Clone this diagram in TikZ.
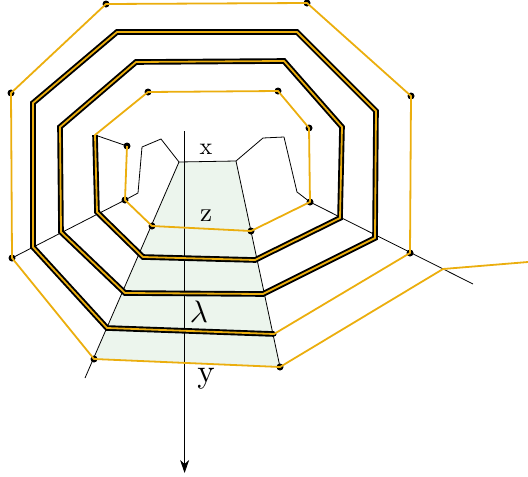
\documentclass[tikz,border=0pt]{standalone}
\usetikzlibrary{arrows.meta}
\definecolor{gold}{HTML}{EBAE0E}
\definecolor{pale}{HTML}{ECF5ED}
\tikzset{
  goldline/.style={draw=gold,line width=1.8pt,line join=round},
  thickblack/.style={draw=black,line width=5.6pt,line join=miter},
  thinline/.style={draw=black,line width=0.8pt,line join=round},
  dot/.style={circle,fill=black,inner sep=0pt,minimum size=7pt},
  lab/.style={inner sep=0pt,text=black}
}
\begin{document}
\begin{tikzpicture}[x=1pt,y=-1pt]
\useasboundingbox (0,0) rectangle (528,477);
\coordinate (s0) at (528,262);
\coordinate (s1) at (443,269);
\coordinate (s2) at (280,367);
\coordinate (s3) at (94,359);
\coordinate (s4) at (12,258);
\coordinate (s5) at (11,93);
\coordinate (s6) at (106,4);
\coordinate (s7) at (307,3);
\coordinate (s8) at (411,96);
\coordinate (s9) at (410,253);
\coordinate (s10) at (274,334);
\coordinate (b1) at (107,328);
\coordinate (b2) at (33,247);
\coordinate (b3) at (33,103);
\coordinate (b4) at (117,32);
\coordinate (b5) at (297,32);
\coordinate (b6) at (376,111);
\coordinate (b7) at (375,238);
\coordinate (b8) at (263,294);
\coordinate (b9) at (125,293);
\coordinate (b10) at (61,232);
\coordinate (b11) at (60,127);
\coordinate (b12) at (136,62);
\coordinate (b13) at (284,61);
\coordinate (b14) at (342,127);
\coordinate (b15) at (340,218);
\coordinate (b16) at (255,260);
\coordinate (b17) at (143,257);
\coordinate (b18) at (97,212);
\coordinate (b19) at (95,135);
\coordinate (i1) at (148,92);
\coordinate (i2) at (278,91);
\coordinate (i3) at (309,128);
\coordinate (i4) at (310,202);
\coordinate (i5) at (251,231);
\coordinate (i6) at (152,226);
\coordinate (i7) at (125,200);
\coordinate (i8) at (127,146);
\coordinate (p1) at (138,193);
\coordinate (p2) at (142,147);
\coordinate (p3) at (161,139);
\coordinate (p4) at (179,162);
\coordinate (p5) at (236,161);
\coordinate (p6) at (263,138);
\coordinate (p7) at (284,137);
\coordinate (p8) at (297,192);
\coordinate (e1) at (85,378);
\coordinate (e2) at (473,284);
\coordinate (a1) at (184.6,131);
\coordinate (a2) at (184.6,473);
\fill[pale] (p4) -- (p5) -- (s2) -- (s3) -- cycle;
\draw[line width=0.8pt,-{Stealth[length=13pt,width=9pt,inset=4pt]}] (a1) -- (a2);
\draw[thinline] (p4) -- (e1);
\draw[thinline] (p5) -- (s2);
\draw[thinline] (s4) -- (i7);
\draw[thinline] (i4) -- (e2);
\draw[thinline] (i7) -- (p1) -- (p2) -- (p3) -- (p4) -- (p5) -- (p6) -- (p7) -- (p8) -- (i4);
\draw[thinline] (b19) -- (i8);
\foreach \n in {s2,s3,s4,s5,s6,s7,s8,s9,i1,i2,i3,i4,i5,i6,i7,i8}
  \node[dot] at (\n) {};
\node[circle,fill=black,inner sep=0pt,minimum size=5pt] at (s10) {};
\draw[thickblack] (s10) -- (b1) -- (b2) -- (b3) -- (b4) -- (b5) -- (b6) -- (b7) -- (b8) -- (b9) -- (b10) -- (b11) -- (b12) -- (b13) -- (b14) -- (b15) -- (b16) -- (b17) -- (b18) -- (b19);
\draw[goldline] (s0) -- (s1) -- (s2) -- (s3) -- (s4) -- (s5) -- (s6) -- (s7) -- (s8) -- (s9) -- (s10) -- (b1) -- (b2) -- (b3) -- (b4) -- (b5) -- (b6) -- (b7) -- (b8) -- (b9) -- (b10) -- (b11) -- (b12) -- (b13) -- (b14) -- (b15) -- (b16) -- (b17) -- (b18) -- (b19) -- (i1) -- (i2) -- (i3) -- (i4) -- (i5) -- (i6) -- (i7) -- (i8);
\node[lab,scale=2.4] (lx) at (206,149) {x};
\node[lab,scale=2.7] (lz) at (206,216) {z};
\node[lab,scale=3.1] (ll) at (199,312) {$\lambda$};
\node[lab,scale=3.3] (ly) at (206,379) {y};
\end{tikzpicture}
\end{document}
